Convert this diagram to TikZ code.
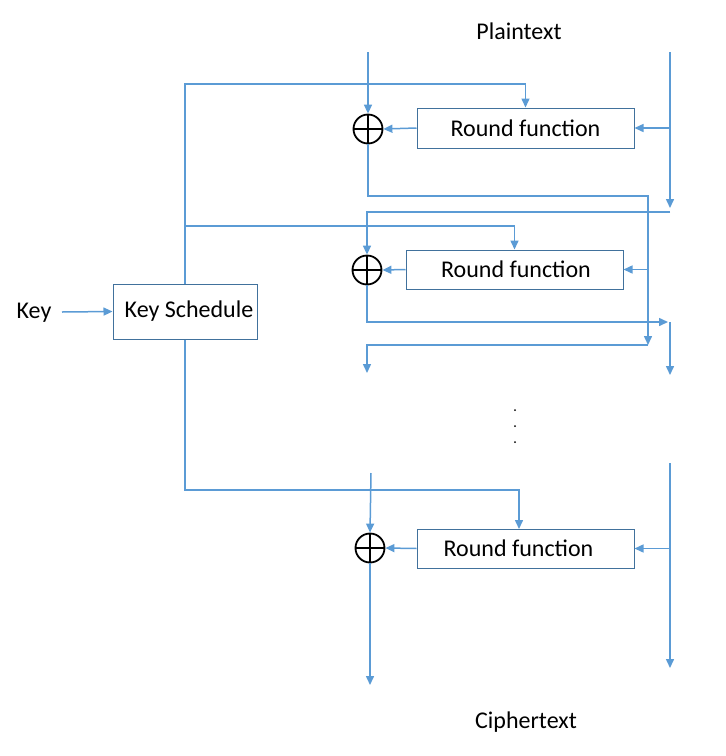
\documentclass[tikz,border=0pt]{standalone}
\usepackage{fontspec}
\setmainfont{Carlito}
\usetikzlibrary{arrows.meta,calc}
\definecolor{wire}{HTML}{5B9BD5}
\definecolor{boxline}{HTML}{41719C}
\begin{document}
\begin{tikzpicture}[x=1pt,y=-1pt,
  lbl/.style={font=\fontsize{24}{27}\selectfont, inner sep=0pt},
  rbox/.style={draw=boxline, line width=1pt, minimum width=217pt, minimum height=40pt, inner sep=0pt, font=\fontsize{24}{27}\selectfont},
  xorn/.style={circle, draw=black, line width=1.8pt, minimum size=29pt, inner sep=0pt,
    path picture={\draw[black, line width=1.8pt] (path picture bounding box.north) -- (path picture bounding box.south) (path picture bounding box.west) -- (path picture bounding box.east);}},
  wl/.style={draw=wire, line width=1.5pt},
  wa/.style={wl, -{Triangle[length=9pt,width=8pt]}}]
\useasboundingbox (0,0) rectangle (726,756);

% labels
\node[lbl] (plain) at (519,31) {Plaintext};
\node[lbl] (cipher) at (526,722) {Ciphertext};
\node[lbl] (key) at (34,313) {Key};

% boxes
\node[rbox, minimum width=144pt, minimum height=55pt] (ks) at (185,311.5) {\kern8pt Key Schedule};
\node[rbox] (rf1) at (525.5,128) {Round function};
\node[rbox, minimum height=39pt] (rf2) at (514.5,269.5) {\kern3pt Round function};
\node[rbox, minimum height=39pt] (rf3) at (525.5,548.5) {Round function\kern14pt\relax};

% xors
\node[xorn] (x1) at (368,129) {};
\node[xorn] (x2) at (367,270) {};
\node[xorn] (x3) at (370,548) {};

% free ends
\coordinate (t1) at (368,52);
\coordinate (t2) at (670,52);
\coordinate (r1e) at (670,208);
\coordinate (r1b) at (670,128);
\coordinate (k1) at (185,84);
\coordinate (k2) at (185,226);
\coordinate (k3) at (185,490);
\coordinate (a1) at (368,196);
\coordinate (a2) at (648,196);
\coordinate (a3) at (648,345);
\coordinate (a3b) at (648,269.5);
\coordinate (b1) at (670,212);
\coordinate (b2) at (367,212);
\coordinate (c1) at (367,322);
\coordinate (c2) at (668,322);
\coordinate (c3) at (670,322);
\coordinate (c4) at (670,375);
\coordinate (d1) at (367,345);
\coordinate (d2) at (367,373);
\coordinate (e1) at (371,473);
\coordinate (e2) at (370,685);
\coordinate (f1) at (670,463);
\coordinate (f2) at (670,668);
\coordinate (f3) at (670,548.5);
\coordinate (g1) at (519,490);
\coordinate (g2) at (519,529);
\coordinate (h1) at (62,312);

% round 1
\draw[wa] (t1) -- (x1.north);
\draw[wa] (ks.north) -- (k1) -| (rf1.north);
\draw[wa] (t2) -- (r1e);
\draw[wa] (r1b) -- (rf1.east);
\draw[wa] (rf1.west) -- (x1.east);
\draw[wa] (x1.south) -- (a1) -- (a2) -- (a3);
\draw[wa] (a3b) -- (rf2.east);

% round 2
\draw[wa] (b1) -- (b2) -- (x2.north);
\draw[wa] (k2) -| (rf2.north);
\draw[wa] (rf2.west) -- (x2.east);
\draw[wa] (x2.south) -- (c1) -- (c2);
\draw[wa] (c3) -- (c4);
\draw[wa] (a3) -- (d1) -- (d2);

% dots
\fill[black] (515,410) circle (1pt) (515,426) circle (1pt) (515,442) circle (1pt);

% last round
\draw[wa] (e1) -- (x3.north);
\draw[wa] (ks.south) -- (k3) -- (g1) -- (g2);
\draw[wa] (f1) -- (f2);
\draw[wa] (f3) -- (rf3.east);
\draw[wa] (rf3.west) -- (x3.east);
\draw[wa] (x3.south) -- (e2);

% key input
\draw[wa] (h1) -- (ks.west);
\end{tikzpicture}
\end{document}
